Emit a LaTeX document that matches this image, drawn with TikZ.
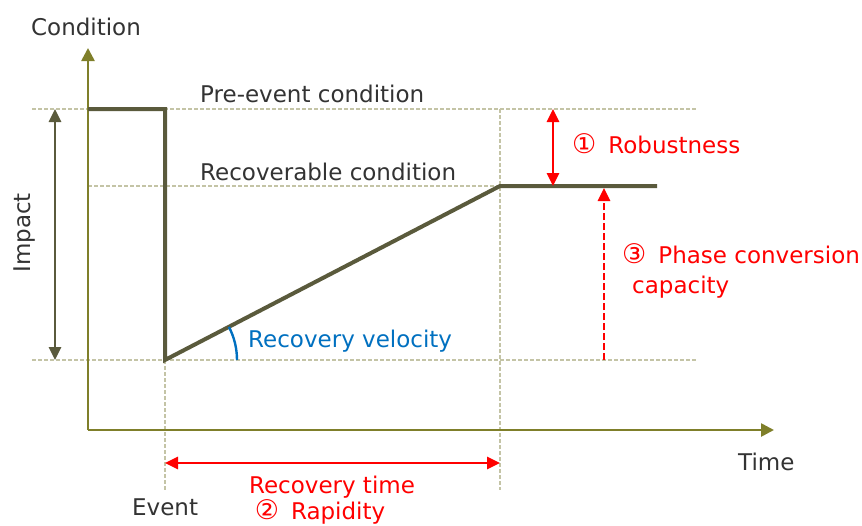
\documentclass[tikz,border=0pt]{standalone}
\usepackage{fontspec}
\setmainfont{DejaVu Sans}
\usetikzlibrary{arrows.meta}
\definecolor{axiscol}{HTML}{7F7F2A}
\definecolor{curvecol}{HTML}{5A5A3C}
\definecolor{guidecol}{HTML}{C4C4A6}
\definecolor{labelcol}{HTML}{333333}
\definecolor{velcol}{HTML}{0070C0}
% circled digits set a little larger than the running text, followed by a gap
\newcommand{\circnum}[1]{{\fontsize{27}{29}\selectfont #1}\hspace{12pt}}
\begin{document}
\begin{tikzpicture}[x=1pt,y=-1pt,
  guide/.style={draw=guidecol,line width=1.3pt,dash pattern=on 4pt off 2pt},
  axisline/.style={draw=axiscol,line width=2.6pt,-{Triangle[length=13pt,width=13pt]}},
  curve/.style={draw=curvecol,line width=4pt,line join=miter},
  redarrow/.style={draw=red,line width=2.6pt,{Triangle[length=13pt,width=12pt]}-{Triangle[length=13pt,width=12pt]}},
  lbl/.style={font=\fontsize{23}{29}\selectfont,text=labelcol,inner sep=0pt},
  redlbl/.style={font=\fontsize{23}{29}\selectfont,text=red,inner sep=0pt}]
\useasboundingbox (0,0) rectangle (862,525);

% key points of the condition curve
\coordinate (top0) at (88,109);
\coordinate (topE) at (165,109);
\coordinate (lowE) at (165,360);
\coordinate (recR) at (500,186);
\coordinate (recEnd) at (657,186);

% guide lines
\draw[guide] (32,109) -- (697,109);
\draw[guide] (88,186) -- (500,186);
\draw[guide] (32,360) -- (697,360);
\draw[guide] (165,360) -- (165,490);
\draw[guide] (500,109) -- (500,490);

% axes
\coordinate (origin) at (88,430);
\coordinate (ytip) at (88,48);
\coordinate (xtip) at (774,430);
\draw[axisline] (origin) -- (ytip);
\draw[axisline] (origin) -- (xtip);

% condition curve
\draw[curve] (top0) -- (topE) -- (lowE) -- (recR) -- (recEnd);

% impact arrow
\coordinate (impT) at (55,109);
\coordinate (impB) at (55,360);
\draw[draw=curvecol,line width=2.6pt,{Triangle[length=13pt,width=12pt]}-{Triangle[length=13pt,width=12pt]}] (impT) -- (impB);

% robustness
\coordinate (robT) at (553,109);
\coordinate (robB) at (553,186);
\draw[redarrow] (robT) -- (robB);

% phase conversion capacity
\coordinate (phB) at (604,360);
\coordinate (phT) at (604,188);
\draw[draw=red,line width=2.6pt,dash pattern=on 7pt off 3pt,-{Triangle[length=13pt,width=12pt]}] (phB) -- (phT);

% recovery time
\coordinate (rtL) at (165,463);
\coordinate (rtR) at (500,463);
\draw[redarrow] (rtL) -- (rtR);

% recovery velocity angle
\draw[draw=velcol,line width=2.4pt] (237,360) arc[start angle=0,end angle=-27.4,radius=72];

% labels
\node[lbl,anchor=base] (cond) at (86,35) {Condition};
\node[lbl,anchor=base west] (pre) at (200,102) {Pre-event condition};
\node[lbl,anchor=base west] (recov) at (200,180) {Recoverable condition};
\node[lbl,anchor=base,rotate=90] (impact) at (30,233) {Impact};
\node[lbl,anchor=base west] (time) at (738,470) {Time};
\node[lbl,anchor=base west] (event) at (132,515) {Event};
\node[font=\fontsize{23}{29}\selectfont,text=velcol,inner sep=0pt,anchor=base west] (vel) at (248,347) {Recovery velocity};
\node[redlbl,anchor=base west] (rob) at (572,153) {\circnum{①}Robustness};
\node[redlbl,anchor=base west] (phase) at (622,263) {\circnum{③}Phase conversion};
\node[redlbl,anchor=base west] (capa) at (632,293) {capacity};
\node[redlbl,anchor=base] (rtime) at (332,493) {Recovery time};
\node[redlbl,anchor=base] (rapid) at (320,519) {\circnum{②}Rapidity};
\end{tikzpicture}
\end{document}
